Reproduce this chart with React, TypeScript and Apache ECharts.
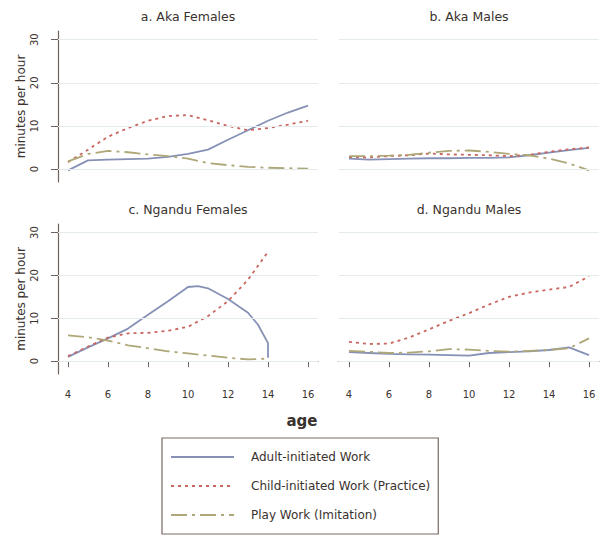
import React, { useEffect, useRef } from "react";
import * as echarts from "echarts";

// ---- data ----
const ages = [4, 5, 6, 7, 8, 9, 10, 11, 12, 13, 14, 15, 16];
const ngFemAges = [4, 5, 6, 7, 8, 9, 10, 11, 12, 13, 14];
const ngFemAdultAges = [4, 5, 6, 7, 8, 9, 10, 10.5, 11, 12, 13, 13.5, 14, 14];

const akaFemAdult = [-0.3, 2.0, 2.2, 2.3, 2.4, 2.8, 3.5, 4.5, 6.8, 9.0, 11.2, 13.1, 14.7];
const akaFemChild = [1.6, 4.5, 7.5, 9.5, 11.2, 12.3, 12.5, 11.3, 10.0, 9.0, 9.5, 10.3, 11.2];
const akaFemPlay = [1.8, 3.5, 4.2, 3.9, 3.4, 3.0, 2.4, 1.4, 0.9, 0.5, 0.3, 0.2, 0.1];

const akaMaleAdult = [2.4, 2.2, 2.3, 2.4, 2.5, 2.5, 2.6, 2.6, 2.7, 3.2, 3.8, 4.4, 4.9];
const akaMaleChild = [2.8, 2.7, 3.0, 3.2, 3.6, 3.4, 3.3, 3.2, 3.0, 3.3, 4.0, 4.6, 5.0];
const akaMalePlay = [3.0, 3.0, 3.1, 3.3, 3.8, 4.2, 4.3, 4.0, 3.5, 3.2, 2.4, 1.3, -0.3];

const ngFemAdult = [1.0, 3.2, 5.3, 7.6, 10.8, 14.0, 17.3, 17.5, 17.0, 14.5, 11.3, 8.5, 4.2, 0.8];
const ngFemChild = [1.2, 3.4, 5.5, 6.5, 6.6, 7.1, 8.0, 10.5, 14.0, 19.0, 25.5];
const ngFemPlay = [6.0, 5.6, 4.8, 3.7, 3.0, 2.3, 1.8, 1.3, 0.8, 0.4, 0.6];

const ngMaleAdult = [2.1, 1.9, 1.7, 1.6, 1.5, 1.4, 1.3, 1.9, 2.1, 2.3, 2.6, 3.2, 1.4];
const ngMaleChild = [4.5, 4.0, 4.1, 5.5, 7.4, 9.4, 11.2, 13.2, 15.0, 16.0, 16.7, 17.3, 19.8];
const ngMalePlay = [2.4, 2.2, 1.9, 2.0, 2.3, 2.8, 2.7, 2.4, 2.2, 2.4, 2.6, 3.0, 5.3];

const yTicks = [0, 10, 20, 30];
const xTicks = [4, 6, 8, 10, 12, 14, 16];
const panelTitles = ["a. Aka Females", "b. Aka Males", "c. Ngandu Females", "d. Ngandu Males"];
const seriesNames = ["Adult-initiated Work", "Child-initiated Work (Practice)", "Play Work (Imitation)"];

const FONT = "DejaVu Sans";
const AXIS = "#6f625c";
const TEXT = "#3a322e";
const COLORS = ["#8791b6", "#c8665f", "#aea777"];
const DASHES: any[] = ["solid", [3, 4], [16, 5, 3, 5]];

const zip = (xs: number[], ys: number[]) => xs.map((x, i) => [x, ys[i]]);

export default function App() {
  const ref = useRef<HTMLDivElement>(null);
  useEffect(() => {
    document.body.style.margin = "0";
    const chart = echarts.init(ref.current!, null, { renderer: "svg" });

    const grids = [
      { left: 58, top: 31, width: 260, height: 151 },
      { left: 339, top: 31, width: 260, height: 151 },
      { left: 58, top: 224, width: 260, height: 150 },
      { left: 339, top: 224, width: 260, height: 150 },
    ];

    const xAxes = grids.map((_, i) => ({
      type: "value",
      gridIndex: i,
      min: 3.5,
      max: 16.5,
      show: i >= 2,
      axisLine: { show: true, lineStyle: { color: AXIS, width: 1.2 } },
      axisTick: { show: true, customValues: xTicks, length: 6, lineStyle: { color: AXIS } },
      axisLabel: { customValues: xTicks, color: TEXT, fontSize: 10, fontFamily: FONT, margin: 15 },
      splitLine: { show: false },
    }));

    const yAxes = grids.map((_, i) => ({
      type: "value",
      gridIndex: i,
      min: -3,
      max: 32,
      show: i % 2 === 0,
      name: "minutes per hour",
      nameLocation: "middle",
      nameGap: 31,
      nameTextStyle: { color: TEXT, fontSize: 12, fontFamily: FONT },
      axisLine: { show: true, lineStyle: { color: AXIS, width: 1.2 } },
      axisTick: { show: true, customValues: yTicks, length: 7, lineStyle: { color: AXIS } },
      axisLabel: { customValues: yTicks, rotate: 90, color: TEXT, fontSize: 10, fontFamily: FONT, margin: 19 },
      splitLine: { show: false },
    }));

    const panels = [
      [zip(ages, akaFemAdult), zip(ages, akaFemChild), zip(ages, akaFemPlay)],
      [zip(ages, akaMaleAdult), zip(ages, akaMaleChild), zip(ages, akaMalePlay)],
      [zip(ngFemAdultAges, ngFemAdult), zip(ngFemAges, ngFemChild), zip(ngFemAges, ngFemPlay)],
      [zip(ages, ngMaleAdult), zip(ages, ngMaleChild), zip(ages, ngMalePlay)],
    ];

    const series: any[] = [];
    panels.forEach((p, i) => {
      series.push({
        type: "line",
        name: "grid" + i,
        xAxisIndex: i,
        yAxisIndex: i,
        data: [],
        z: 1,
        markLine: {
          silent: true,
          symbol: "none",
          label: { show: false },
          lineStyle: { color: "#e3ebed", type: "solid", width: 1 },
          data: yTicks.map((v) => ({ yAxis: v })),
        },
      });
      p.forEach((d, k) => {
        series.push({
          type: "line",
          name: seriesNames[k],
          xAxisIndex: i,
          yAxisIndex: i,
          data: d,
          symbol: "none",
          z: 3,
          color: COLORS[k],
          lineStyle: { color: COLORS[k], width: 1.8, type: DASHES[k] },
        });
      });
    });

    const titlePos = [
      [188, 16],
      [469, 16],
      [188, 209],
      [469, 209],
    ];

    chart.setOption({
      animation: false,
      backgroundColor: "#ffffff",
      grid: grids,
      xAxis: xAxes,
      yAxis: yAxes,
      series,
      legend: {
        data: seriesNames,
        orient: "vertical",
        left: 162,
        top: 438,
        itemWidth: 63,
        itemHeight: 14,
        itemGap: 17,
        padding: [13, 8, 13, 8],
        borderColor: "#7a6a62",
        borderWidth: 1.2,
        itemStyle: { opacity: 0 },
        textStyle: { color: TEXT, fontSize: 12, fontFamily: FONT, padding: [0, 0, 0, 12] },
      },
      graphic: [
        ...panelTitles.map((t, i) => ({
          type: "text",
          x: titlePos[i][0],
          y: titlePos[i][1],
          style: { text: t, align: "center", verticalAlign: "middle", fill: TEXT, font: `12.5px "${FONT}"` },
        })),
        {
          type: "text",
          x: 302,
          y: 421,
          style: { text: "age", align: "center", verticalAlign: "middle", fill: TEXT, font: `bold 15px "${FONT}"` },
        },
      ],
    });
    return () => chart.dispose();
  }, []);
  return <div ref={ref} style={{ width: 601, height: 543 }} />;
}
